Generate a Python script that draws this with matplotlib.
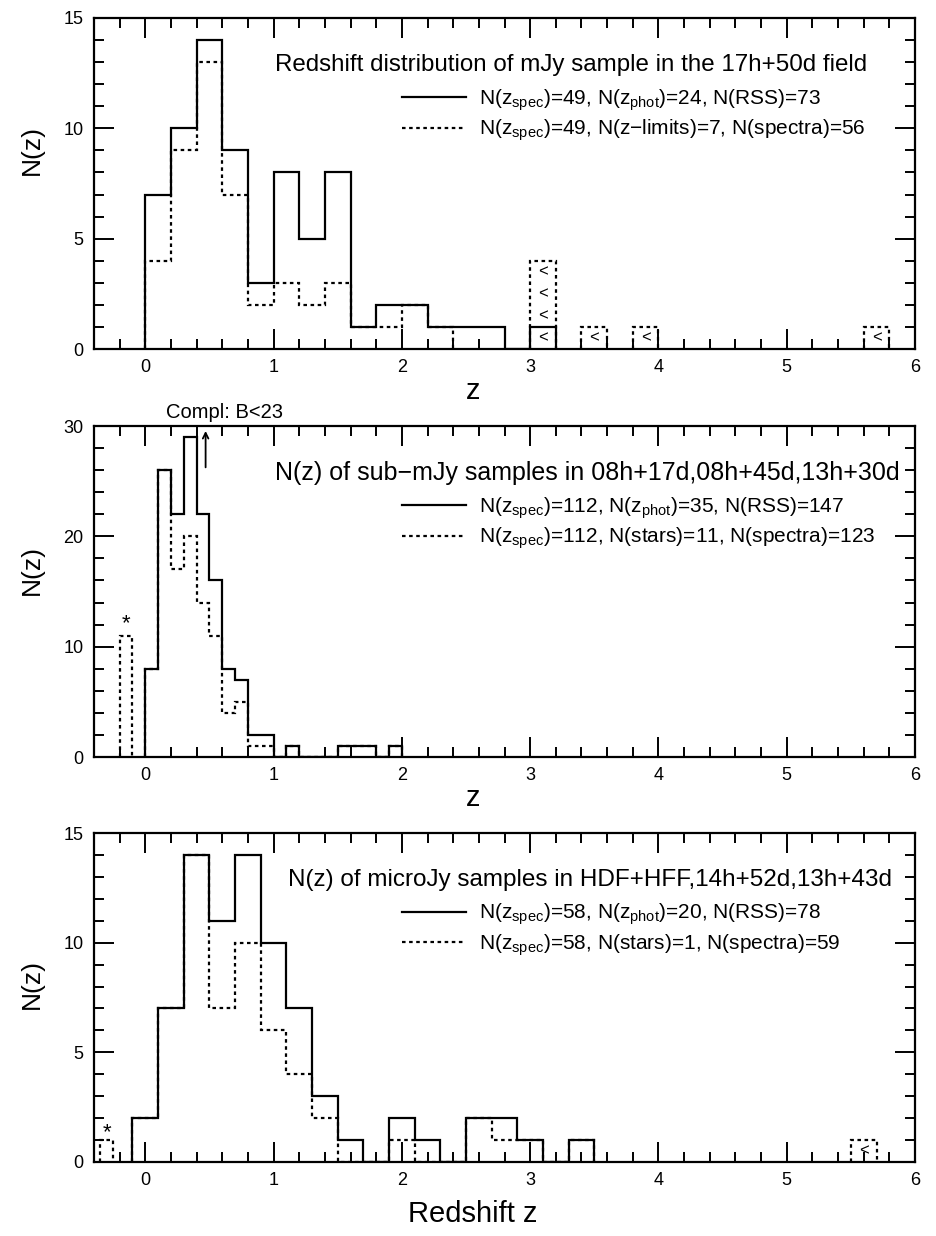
import numpy as np
import matplotlib
matplotlib.use('Agg')
import matplotlib.pyplot as plt
from matplotlib.ticker import MultipleLocator
from matplotlib.lines import Line2D

plt.rcParams['font.family'] = ['Liberation Sans', 'DejaVu Sans']
plt.rcParams['mathtext.fontset'] = 'custom'
plt.rcParams['mathtext.rm'] = 'Liberation Sans'
plt.rcParams['mathtext.it'] = 'Liberation Sans'
plt.rcParams['mathtext.bf'] = 'Liberation Sans:bold'

# top panel: mJy sample in 17h+50d, bins of 0.2 starting at z=0
mjy_z0, mjy_dz = 0.0, 0.2
mjy_all = [7, 10, 14, 9, 3, 8, 5, 8, 1, 2, 2, 1, 1, 1, 0, 1]
mjy_spec = [4, 9, 13, 7, 2, 3, 2, 3, 1, 1, 2, 1]
mjy_lim_z = [3.0, 3.4, 3.8, 5.6]
mjy_lim_n = [4, 1, 1, 1]

# middle panel: sub-mJy samples, bins of 0.1 starting at z=0
sub_z0, sub_dz = 0.0, 0.1
sub_all = [8, 26, 22, 29, 22, 16, 8, 7, 2, 2, 0, 1, 0, 0, 0, 1, 1, 1, 0, 1]
sub_spec = [8, 26, 17, 20, 14, 11, 4, 5, 1, 1, 0, 1, 0, 0, 0, 1, 1, 1, 0, 1]
sub_star_z, sub_star_n = -0.2, 11
sub_compl_z = 0.47

# bottom panel: microJy samples, bins of 0.2 starting at z=-0.1
mu_z0, mu_dz = -0.1, 0.2
mu_all = [2, 7, 14, 11, 14, 10, 7, 3, 1, 0, 2, 1, 0, 2, 2, 1, 0, 1]
mu_spec = [2, 7, 14, 7, 10, 6, 4, 2, 0, 0, 1, 0, 0, 2, 1, 1, 0, 1]
mu_star_z, mu_star_n = -0.35, 1
mu_lim_z = [5.5]
mu_lim_n = [1]

titles = ['Redshift distribution of mJy sample in the 17h+50d field',
          'N(z) of sub\u2212mJy samples in 08h+17d,08h+45d,13h+30d',
          'N(z) of microJy samples in HDF+HFF,14h+52d,13h+43d']
labels_solid = [r'N(z$_{\rm spec}$)=49, N(z$_{\rm phot}$)=24, N(RSS)=73',
                r'N(z$_{\rm spec}$)=112, N(z$_{\rm phot}$)=35, N(RSS)=147',
                r'N(z$_{\rm spec}$)=58, N(z$_{\rm phot}$)=20, N(RSS)=78']
labels_dash = [r'N(z$_{\rm spec}$)=49, N(z$-$limits)=7, N(spectra)=56',
               r'N(z$_{\rm spec}$)=112, N(stars)=11, N(spectra)=123',
               r'N(z$_{\rm spec}$)=58, N(stars)=1, N(spectra)=59']

dot = (0, (1.6, 1.6))
lw = 1.6


def edges(z0, dz, n):
    return z0 + dz * np.arange(len(n) + 1)


fig = plt.figure(figsize=(9.36, 12.36), dpi=100)
W = 936.
H = 1236.
boxes = [(18, 349), (426, 757), (833, 1162)]
axes = []
for top, bot in boxes:
    ax = fig.add_axes([94 / W, 1 - bot / H, 821 / W, (bot - top) / H])
    axes.append(ax)

# top
ax = axes[0]
ax.stairs(mjy_all, edges(mjy_z0, mjy_dz, mjy_all), color='k', lw=lw)
ax.stairs(mjy_spec, edges(mjy_z0, mjy_dz, mjy_spec), color='k', lw=lw, ls=dot)
for z, n in zip(mjy_lim_z, mjy_lim_n):
    ax.stairs([n], [z, z + mjy_dz], color='k', lw=lw, ls=dot)
    for k in range(n):
        ax.text(z + mjy_dz / 2, k + 0.5, '<', ha='center', va='center', fontsize=12)
ax.set_ylim(0, 15)
ax.yaxis.set_major_locator(MultipleLocator(5))
ax.yaxis.set_minor_locator(MultipleLocator(1))

# middle
ax = axes[1]
ax.stairs(sub_all, edges(sub_z0, sub_dz, sub_all), color='k', lw=lw)
ax.stairs(sub_spec, edges(sub_z0, sub_dz, sub_spec), color='k', lw=lw, ls=dot)
ax.stairs([sub_star_n], [sub_star_z, sub_star_z + sub_dz], color='k', lw=lw, ls=dot)
ax.text(sub_star_z + sub_dz / 2, sub_star_n + 0.1, '*', ha='center', va='bottom', fontsize=16)
ax.annotate('', xy=(sub_compl_z, 29.8), xytext=(sub_compl_z, 26),
            arrowprops=dict(arrowstyle='->', lw=1.3, color='k'))
ax.text(0.62, 31.2, 'Compl: B<23', ha='center', va='center', fontsize=14.5, clip_on=False)
ax.set_ylim(0, 30)
ax.yaxis.set_major_locator(MultipleLocator(10))
ax.yaxis.set_minor_locator(MultipleLocator(2))

# bottom
ax = axes[2]
ax.stairs(mu_all, edges(mu_z0, mu_dz, mu_all), color='k', lw=lw)
ax.stairs(mu_spec, edges(mu_z0, mu_dz, mu_spec), color='k', lw=lw, ls=dot)
ax.stairs([mu_star_n], [mu_star_z, mu_star_z + 0.1], color='k', lw=lw, ls=dot)
ax.text(mu_star_z + 0.05, mu_star_n - 0.15, '*', ha='center', va='bottom', fontsize=16)
for z, n in zip(mu_lim_z, mu_lim_n):
    ax.stairs([n], [z, z + mu_dz], color='k', lw=lw, ls=dot)
    ax.text(z + mu_dz / 2, 0.5, '<', ha='center', va='center', fontsize=12)
ax.set_ylim(0, 15)
ax.yaxis.set_major_locator(MultipleLocator(5))
ax.yaxis.set_minor_locator(MultipleLocator(1))

ylab_y = [0.60, 0.565, 0.54]
xlab = ['z', 'z', 'Redshift z']
xlab_y = [-0.127, -0.124, -0.158]
title_x = [(275 - 94) / 821, (275 - 94) / 821, (288 - 94) / 821]
title_fs = [17.4, 18.0, 17.5]
for i, ax in enumerate(axes):
    ax.set_xlim(-0.4, 6)
    ax.xaxis.set_major_locator(MultipleLocator(1))
    ax.xaxis.set_minor_locator(MultipleLocator(0.2))
    ax.tick_params(which='both', direction='in', top=True, right=True,
                   labelsize=13, width=1.4, pad=7.5, color='k')
    ax.tick_params(which='major', length=14.5)
    ax.tick_params(which='minor', length=7.5)
    for s in ax.spines.values():
        s.set_linewidth(1.6)
    ax.set_ylabel('N(z)', fontsize=19)
    ax.yaxis.set_label_coords(-0.0755, ylab_y[i])
    ax.yaxis.label.set_va('center')
    ax.set_xlabel(xlab[i], fontsize=21)
    ax.xaxis.set_label_coords(0.4616, xlab_y[i])
    ax.xaxis.label.set_va('center')
    ax.text(title_x[i], 0.858, titles[i], transform=ax.transAxes,
            ha='left', va='center', fontsize=title_fs[i])
    handles = [Line2D([], [], color='k', lw=lw),
               Line2D([], [], color='k', lw=lw, ls=dot)]
    ax.legend(handles, [labels_solid[i], labels_dash[i]], loc='upper left',
              bbox_to_anchor=(0.375, 0.791), frameon=False, fontsize=15,
              handlelength=3.1, handletextpad=0.62, borderpad=0,
              borderaxespad=0, labelspacing=0.25)

fig.savefig('out.png', dpi=100)
